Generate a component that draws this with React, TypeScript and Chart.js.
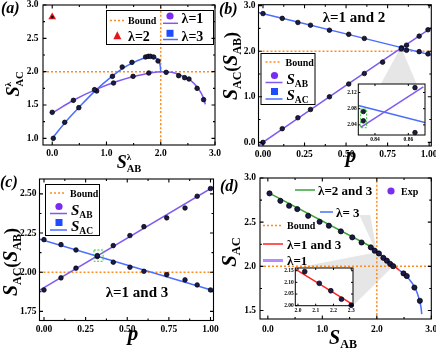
import React, { useEffect, useRef } from "react";
import { Chart, registerables } from "chart.js";

Chart.register(...registerables);

const FIG_W = 436;
const FIG_H = 348;
const SERIF = '"Liberation Serif", "Times New Roman", serif';
const BOUND = 2.0;

// ---------------- panel (a) ----------------
const aTickX = [0, 1, 2, 3];
const aTickY = [1.0, 1.5, 2.0, 2.5, 3.0];
const aLam1X = [0.0, 0.39, 0.78, 1.13, 1.49, 1.78, 2.1, 2.33, 2.44, 2.52, 2.67, 2.79];
const aLam1Y = [1.39, 1.57, 1.73, 1.83, 1.93, 1.98, 1.99, 1.94, 1.91, 1.89, 1.75, 1.58];
const aLam3X = [0.02, 0.23, 0.49, 0.82, 1.11, 1.29, 1.47, 1.72, 1.77, 1.81, 1.87, 1.95];
const aLam3Y = [1.0, 1.24, 1.46, 1.71, 1.93, 2.07, 2.14, 2.22, 2.23, 2.23, 2.22, 2.16];
const aLam2X = [0.0];
const aLam2Y = [2.82];
const aTheory1X = [0, 0.4, 0.8, 1.2, 1.6, 2.0, 2.2, 2.4, 2.55, 2.67, 2.75, 2.8, 2.82];
const aTheory1Y = [1.38, 1.575, 1.73, 1.855, 1.945, 2.0, 1.99, 1.935, 1.87, 1.77, 1.67, 1.58, 1.51];
const aTheory3X = [0, 0.25, 0.5, 0.8, 1.1, 1.3, 1.5, 1.65, 1.8, 1.9, 1.96, 1.99, 2.0];
const aTheory3Y = [1.0, 1.25, 1.47, 1.72, 1.93, 2.05, 2.14, 2.19, 2.22, 2.21, 2.16, 2.09, 2.0];

// ---------------- panel (b) ----------------
const bTickX = [0, 0.25, 0.5, 0.75, 1.0];
const bTickY = [0, 1, 2, 3];
const bAbP = [0, 0.116, 0.21, 0.286, 0.4, 0.516, 0.61, 0.72, 0.833, 0.864, 0.94, 0.993];
const bAbY = [0.0, 0.3, 0.54, 0.72, 1.0, 1.28, 1.51, 1.76, 2.05, 2.132, 2.33, 2.47];
const bAcP = [0, 0.116, 0.21, 0.286, 0.4, 0.516, 0.61, 0.833, 0.864, 0.94, 0.993];
const bAcY = [2.825, 2.72, 2.63, 2.57, 2.46, 2.37, 2.28, 2.073, 2.021, 1.99, 1.94];
const bTheoryP = [-0.03, 0.5, 1.02];
const bTheoryAB = [-0.075, 1.25, 2.53];
const bTheoryAC = [2.85, 2.38, 1.91];
// inset of (b)
const biTickX = [0.84, 0.86];
const biTickY = [2.04, 2.08, 2.12];
const biTheoryAcP = [0.83, 0.87];
const biTheoryAcY = [2.088, 2.046];
const biTheoryAbP = [0.8314, 0.869];
const biTheoryAbY = [2.034, 2.134];

// ---------------- panel (c) ----------------
const cTickX = [0, 0.25, 0.5, 0.75, 1.0];
const cTickY = [1.75, 2.0, 2.25, 2.5];
const cP = [0, 0.102, 0.192, 0.32, 0.416, 0.516, 0.6, 0.737, 0.847, 0.92, 1.0];
const cAbY = [1.887, 1.964, 2.026, 2.106, 2.17, 2.234, 2.291, 2.347, 2.41, 2.485, 2.534];
const cAcY = [2.208, 2.176, 2.142, 2.1, 2.064, 2.032, 2.006, 1.985, 1.951, 1.919, 1.887];
const cTheoryP = [-0.03, 1.02];
const cTheoryAB = [1.882, 2.546];
const cTheoryAC = [2.213, 1.882];

// ---------------- panel (d) ----------------
const dTickX = [0, 1, 2, 3];
const dTickY = [1.5, 2.0, 2.5, 3.0];
const dExpX = [0.03, 0.23, 0.39, 0.54, 0.74, 0.95, 1.12, 1.34, 1.55, 1.72, 1.89, 1.96, 2.038, 2.12, 2.185, 2.245, 2.3, 2.49, 2.55, 2.69, 2.79];
const dExpY = [2.826, 2.742, 2.686, 2.648, 2.572, 2.505, 2.46, 2.396, 2.328, 2.27, 2.215, 2.177, 2.146, 2.096, 2.064, 2.028, 2.002, 1.92, 1.89, 1.76, 1.61];
const dGreenX = [0, 1.897];
const dGreenY = [2.837, 2.222];
const dRedX = [1.897, 2.41];
const dRedY = [2.222, 1.958];
const dBlueX = [2.41, 2.5, 2.6, 2.68, 2.74, 2.78, 2.81, 2.825];
const dBlueY = [1.958, 1.915, 1.85, 1.78, 1.7, 1.62, 1.54, 1.46];
// inset of (d)
const diTickX = [2.0, 2.1, 2.2, 2.3];
const diTickY = [2.0, 2.05, 2.1, 2.15];
const diRedX = [1.985, 2.31];
const diRedY = [2.157, 2.005];

// ---------------- styling ----------------
const C_PURPLE_LINE = "#7f5af0";
const C_BLUE_LINE = "#4a6cff";
const C_POINT = "#1c1a48";
const C_ORANGE = "#ff8c1f";
const C_PURPLE_MARK = "#7a2cf0";
const C_BLUE_MARK = "#1f4cff";
const C_GREEN = "#3aa33a";
const C_RED = "#ff2020";
const C_LIGHT_PURPLE = "#b48cff";
const C_GRAY = "rgba(205,205,205,0.5)";

type Area = { l: number; t: number; r: number; b: number };
type Axis = { min: number; max: number; ticks: number[]; dec: number; pad: number };

const A_AREA: Area = { l: 43, t: 5, r: 215, b: 145 };
const B_AREA: Area = { l: 258.5, t: 4.5, r: 432, b: 146 };
const C_AREA: Area = { l: 39.5, t: 179, r: 213.5, b: 320.5 };
const D_AREA: Area = { l: 260, t: 178, r: 434.5, b: 319 };
const BI_AREA: Area = { l: 358.3, t: 84, r: 425, b: 135 };
const DI_AREA: Area = { l: 295.3, t: 268, r: 353, b: 305.7 };

const pts = (xs: number[], ys: number[]) => xs.map((x, i) => ({ x, y: ys[i] }));

const pointsDS = (xs: number[], ys: number[], extra: any = {}) => ({
  data: pts(xs, ys),
  showLine: false,
  pointRadius: 2.3,
  pointBackgroundColor: C_POINT,
  pointBorderColor: "#000",
  pointBorderWidth: 0.7,
  ...extra,
});
const lineDS = (xs: number[], ys: number[], color: string, width = 1.5, extra: any = {}) => ({
  data: pts(xs, ys),
  showLine: true,
  pointRadius: 0,
  borderColor: color,
  borderWidth: width,
  cubicInterpolationMode: "monotone",
  ...extra,
});
const hBound = (ax: Axis) => lineDS([ax.min, ax.max], [BOUND, BOUND], C_ORANGE, 1.5, { borderDash: [2, 2] });
const vBound = (ay: Axis) => lineDS([BOUND, BOUND], [ay.min, ay.max], C_ORANGE, 1.5, { borderDash: [2, 2] });

// ---------------- drawing helpers ----------------
type Seg = { t: string; size: number; it?: boolean; dy?: number; hold?: boolean };
const segFont = (s: Seg) => `${s.it ? "italic " : ""}bold ${s.size}px ${SERIF}`;
function richW(ctx: CanvasRenderingContext2D, segs: Seg[]) {
  let w = 0;
  for (const s of segs) {
    ctx.font = segFont(s);
    if (!s.hold) w += ctx.measureText(s.t).width;
  }
  return w;
}
function rich(ctx: CanvasRenderingContext2D, segs: Seg[], x: number, y: number, align: "left" | "center", rot = false) {
  ctx.save();
  ctx.translate(x, y);
  if (rot) ctx.rotate(-Math.PI / 2);
  let cx = align === "center" ? -richW(ctx, segs) / 2 : 0;
  ctx.fillStyle = "#000";
  ctx.textBaseline = "alphabetic";
  ctx.textAlign = "left";
  for (const s of segs) {
    ctx.font = segFont(s);
    ctx.fillText(s.t, cx, s.dy || 0);
    if (!s.hold) cx += ctx.measureText(s.t).width;
  }
  ctx.restore();
}
function label(ctx: CanvasRenderingContext2D, s: string, x: number, y: number, size: number, align: CanvasTextAlign = "left", italic = false) {
  ctx.save();
  ctx.font = `${italic ? "italic " : ""}bold ${size}px ${SERIF}`;
  ctx.fillStyle = "#000";
  ctx.textAlign = align;
  ctx.textBaseline = "alphabetic";
  ctx.fillText(s, x, y);
  ctx.restore();
}
function segLine(ctx: CanvasRenderingContext2D, x1: number, x2: number, y: number, color: string, w = 1.5, dash: number[] = []) {
  ctx.save();
  ctx.strokeStyle = color;
  ctx.lineWidth = w;
  ctx.setLineDash(dash);
  ctx.beginPath();
  ctx.moveTo(x1, y);
  ctx.lineTo(x2, y);
  ctx.stroke();
  ctx.restore();
}
function dotted(ctx: CanvasRenderingContext2D, x1: number, x2: number, y: number) {
  segLine(ctx, x1, x2, y, C_ORANGE, 1.5, [2, 2]);
}
function circle(ctx: CanvasRenderingContext2D, x: number, y: number, r: number, color: string) {
  ctx.save();
  ctx.fillStyle = color;
  ctx.beginPath();
  ctx.arc(x, y, r, 0, Math.PI * 2);
  ctx.fill();
  ctx.restore();
}
function square(ctx: CanvasRenderingContext2D, x: number, y: number, s: number, color: string) {
  ctx.save();
  ctx.fillStyle = color;
  ctx.fillRect(x - s / 2, y - s / 2, s, s);
  ctx.restore();
}
function triangle(ctx: CanvasRenderingContext2D, x: number, y: number, s: number, color: string) {
  ctx.save();
  ctx.fillStyle = color;
  ctx.beginPath();
  ctx.moveTo(x, y - s * 0.6);
  ctx.lineTo(x + s / 2, y + s * 0.4);
  ctx.lineTo(x - s / 2, y + s * 0.4);
  ctx.closePath();
  ctx.fill();
  ctx.restore();
}
function box(ctx: CanvasRenderingContext2D, l: number, t: number, w: number, h: number, color = "#000", lw = 1, dash: number[] = []) {
  ctx.save();
  ctx.strokeStyle = color;
  ctx.lineWidth = lw;
  ctx.setLineDash(dash);
  ctx.strokeRect(l, t, w, h);
  ctx.restore();
}
function minorVals(arr: number[], min: number, max: number) {
  if (arr.length < 2) return [];
  const st = arr[1] - arr[0];
  const out: number[] = [];
  const k0 = Math.floor((min - arr[0]) / st) - 1;
  const k1 = Math.ceil((max - arr[0]) / st) + 1;
  for (let k = k0; k <= k1; k++) {
    const v = arr[0] + st * (k + 0.5);
    if (v >= min && v <= max) out.push(v);
  }
  return out;
}
function drawFrame(chart: any, major = 3.5, minor = 2, lw = 1.1) {
  const { ctx, chartArea: a, scales } = chart;
  const xs = scales.x;
  const ys = scales.y;
  const xt = xs.ticks.map((t: any) => t.value);
  const yt = ys.ticks.map((t: any) => t.value);
  ctx.save();
  ctx.strokeStyle = "#000";
  ctx.lineWidth = lw;
  ctx.strokeRect(a.left, a.top, a.right - a.left, a.bottom - a.top);
  ctx.beginPath();
  const xAll: [number, number][] = xt.map((v: number) => [v, major]);
  if (minor > 0) minorVals(xt, xs.min, xs.max).forEach((v) => xAll.push([v, minor]));
  xAll.forEach(([v, len]) => {
    const px = xs.getPixelForValue(v);
    ctx.moveTo(px, a.bottom);
    ctx.lineTo(px, a.bottom - len);
    ctx.moveTo(px, a.top);
    ctx.lineTo(px, a.top + len);
  });
  const yAll: [number, number][] = yt.map((v: number) => [v, major]);
  if (minor > 0) minorVals(yt, ys.min, ys.max).forEach((v) => yAll.push([v, minor]));
  yAll.forEach(([v, len]) => {
    const py = ys.getPixelForValue(v);
    ctx.moveTo(a.left, py);
    ctx.lineTo(a.left + len, py);
    ctx.moveTo(a.right, py);
    ctx.lineTo(a.right - len, py);
  });
  ctx.stroke();
  ctx.restore();
}
function polygon(ctx: CanvasRenderingContext2D, p: [number, number][], color: string) {
  ctx.save();
  ctx.fillStyle = color;
  ctx.beginPath();
  p.forEach(([x, y], i) => (i ? ctx.lineTo(x, y) : ctx.moveTo(x, y)));
  ctx.closePath();
  ctx.fill();
  ctx.restore();
}
function sLegend(ctx: CanvasRenderingContext2D, L: number, T: number) {
  box(ctx, L + 0.5, T + 0.5, 54, 51);
  dotted(ctx, L + 5, L + 21, T + 9);
  label(ctx, "Bound", L + 25, T + 12.5, 10);
  circle(ctx, L + 14, T + 22.5, 3.6, C_PURPLE_MARK);
  segLine(ctx, L + 5, L + 22, T + 29.5, C_PURPLE_LINE, 1.5);
  rich(ctx, [{ t: "S", size: 15, it: true }, { t: "AB", size: 9.5, dy: 3 }], L + 26, T + 31);
  square(ctx, L + 14, T + 38.5, 7, C_BLUE_MARK);
  segLine(ctx, L + 5, L + 22, T + 46, C_BLUE_LINE, 1.5);
  rich(ctx, [{ t: "S", size: 15, it: true }, { t: "AC", size: 9.5, dy: 3 }], L + 26, T + 47);
}
const yTitleSS: Seg[] = [
  { t: "S", size: 20, it: true },
  { t: "AC", size: 12, dy: 3.5 },
  { t: "(", size: 18 },
  { t: "S", size: 20, it: true },
  { t: "AB", size: 12, dy: 3.5 },
  { t: ")", size: 18 },
];

// ---------------- config builder ----------------
function buildConfig(area: Area, ax: Axis, ay: Axis, font: number, datasets: any[], deco: any, yw = 30, xh = 20) {
  const fmt = (d: number) => (v: any) => Number(v).toFixed(d);
  const tickFont = { family: SERIF, size: font, weight: "bold" as const };
  return {
    type: "scatter" as const,
    data: { datasets },
    options: {
      animation: false as const,
      responsive: false,
      maintainAspectRatio: false,
      events: [] as any[],
      layout: {
        padding: {
          left: area.l - yw,
          top: area.t,
          right: FIG_W - area.r,
          bottom: FIG_H - area.b - xh,
        },
      },
      plugins: { legend: { display: false }, tooltip: { enabled: false } },
      scales: {
        x: {
          type: "linear" as const,
          min: ax.min,
          max: ax.max,
          grid: { display: false, drawTicks: false },
          border: { display: false },
          afterBuildTicks: (s: any) => {
            s.ticks = ax.ticks.map((v) => ({ value: v }));
          },
          afterFit: (s: any) => {
            s.height = xh;
            s.paddingLeft = 0;
            s.paddingRight = 0;
            s.paddingTop = 0;
            s.paddingBottom = 0;
          },
          ticks: { padding: ax.pad, maxRotation: 0, autoSkip: false, color: "#000", font: tickFont, callback: fmt(ax.dec) },
        },
        y: {
          type: "linear" as const,
          min: ay.min,
          max: ay.max,
          grid: { display: false, drawTicks: false },
          border: { display: false },
          afterBuildTicks: (s: any) => {
            s.ticks = ay.ticks.map((v) => ({ value: v }));
          },
          afterFit: (s: any) => {
            s.width = yw;
            s.paddingLeft = 0;
            s.paddingRight = 0;
            s.paddingTop = 0;
            s.paddingBottom = 0;
          },
          ticks: { padding: ay.pad, autoSkip: false, color: "#000", font: tickFont, callback: fmt(ay.dec) },
        },
      },
    },
    plugins: [{ id: "deco", ...deco }],
  };
}

// ---------------- panels ----------------
const A_X: Axis = { min: -0.17, max: 3.0, ticks: aTickX, dec: 1, pad: 3 };
const A_Y: Axis = { min: 0.9, max: 3.0, ticks: aTickY, dec: 1, pad: 4.5 };
const B_X: Axis = { min: -0.027, max: 1.013, ticks: bTickX, dec: 2, pad: 2.5 };
const B_Y: Axis = { min: -0.08, max: 3.02, ticks: bTickY, dec: 1, pad: 3 };
const BI_X: Axis = { min: 0.83, max: 0.87, ticks: biTickX, dec: 2, pad: 1.5 };
const BI_Y: Axis = { min: 2.015, max: 2.141, ticks: biTickY, dec: 2, pad: 1.5 };
const C_X: Axis = { min: -0.027, max: 1.018, ticks: cTickX, dec: 2, pad: 3.5 };
const C_Y: Axis = { min: 1.692, max: 2.595, ticks: cTickY, dec: 2, pad: 3 };
const D_X: Axis = { min: -0.144, max: 3.0, ticks: dTickX, dec: 1, pad: 5 };
const D_Y: Axis = { min: 1.404, max: 3.0, ticks: dTickY, dec: 1, pad: 4 };
const DI_X: Axis = { min: 1.985, max: 2.31, ticks: diTickX, dec: 1, pad: 1.5 };
const DI_Y: Axis = { min: 2.0, max: 2.1616, ticks: diTickY, dec: 2, pad: 1.5 };

function configA() {
  const datasets = [
    pointsDS(aLam2X, aLam2Y, { pointRadius: 1.5, pointBackgroundColor: "#111", pointBorderWidth: 0 }),
    pointsDS(aLam2X, aLam2Y, { pointStyle: "triangle", pointRadius: 4.5, pointBackgroundColor: "#e8141c", pointBorderColor: "#e8141c", pointBorderWidth: 0 }),
    pointsDS(aLam1X, aLam1Y),
    pointsDS(aLam3X, aLam3Y),
    lineDS(aTheory1X, aTheory1Y, C_PURPLE_LINE),
    lineDS(aTheory3X, aTheory3Y, C_BLUE_LINE),
    hBound(A_X),
    vBound(A_Y),
  ];
  const deco = {
    afterDraw(chart: any) {
      const ctx = chart.ctx;
      drawFrame(chart);
      label(ctx, "(a)", 1, 13, 16, "left", true);
      rich(ctx, [{ t: "S", size: 18, it: true }, { t: "λ", size: 9, dy: -8, hold: true }, { t: "AC", size: 10.5, dy: 4 }], 18.5, 84, "center", true);
      rich(ctx, [{ t: "S", size: 18, it: true }, { t: "λ", size: 9, dy: -8, hold: true }, { t: "AB", size: 10.5, dy: 4 }], 129, 168, "center");
      // legend
      box(ctx, 106.5, 10.5, 107, 34);
      dotted(ctx, 110, 124, 20.5);
      label(ctx, "Bound", 128, 24, 10);
      circle(ctx, 170, 16, 3.6, C_PURPLE_MARK);
      segLine(ctx, 163, 178, 23.3, C_PURPLE_LINE, 1.5);
      label(ctx, "λ=1", 181.5, 23, 14);
      triangle(ctx, 117.3, 36, 8, "#e8141c");
      label(ctx, "λ=2", 128, 41, 14);
      square(ctx, 170, 33.3, 7, C_BLUE_MARK);
      segLine(ctx, 163, 178, 39.5, C_BLUE_LINE, 1.5);
      label(ctx, "λ=3", 181.5, 41, 14);
    },
  };
  return buildConfig(A_AREA, A_X, A_Y, 9.5, datasets, deco);
}

function configB() {
  const datasets = [
    pointsDS(bAbP, bAbY),
    pointsDS(bAcP, bAcY),
    lineDS(bTheoryP, bTheoryAB, C_PURPLE_LINE),
    lineDS(bTheoryP, bTheoryAC, C_BLUE_LINE),
    hBound(B_X),
  ];
  const deco = {
    beforeDatasetsDraw(chart: any) {
      const { x, y } = chart.scales;
      polygon(
        chart.ctx,
        [
          [x.getPixelForValue(0.83), y.getPixelForValue(2.09)],
          [x.getPixelForValue(0.925), BI_AREA.t],
          [x.getPixelForValue(0.709), BI_AREA.t],
        ],
        C_GRAY
      );
    },
    afterDraw(chart: any) {
      const ctx = chart.ctx;
      drawFrame(chart);
      label(ctx, "(b)", 219, 14, 16, "left", true);
      rich(ctx, yTitleSS, 237, 66, "center", true);
      label(ctx, "p", 351, 162, 21, "center", true);
      label(ctx, "λ=1 and 2", 354, 22, 15, "center");
      sLegend(ctx, 260.5, 53);
    },
  };
  return buildConfig(B_AREA, B_X, B_Y, 9.5, datasets, deco);
}

function configBInset() {
  const inRange = (xs: number[], ys: number[]) => {
    const ix = xs.map((v, i) => i).filter((i) => xs[i] >= BI_X.min && xs[i] <= BI_X.max);
    return [ix.map((i) => xs[i]), ix.map((i) => ys[i])];
  };
  const [abx, aby] = inRange(bAbP, bAbY);
  const [acx, acy] = inRange(bAcP, bAcY);
  const datasets = [
    pointsDS(abx, aby, { clip: false }),
    pointsDS(acx, acy, { clip: false }),
    lineDS(biTheoryAbP, biTheoryAbY, C_PURPLE_LINE),
    lineDS(biTheoryAcP, biTheoryAcY, C_BLUE_LINE),
  ];
  const deco = {
    beforeDatasetsDraw(chart: any) {
      const a = chart.chartArea;
      chart.ctx.save();
      chart.ctx.fillStyle = "#fff";
      chart.ctx.fillRect(a.left, a.top, a.right - a.left, a.bottom - a.top);
      chart.ctx.restore();
    },
    afterDraw(chart: any) {
      const { x, y } = chart.scales;
      drawFrame(chart, 2, 0, 1);
      const l = x.getPixelForValue(0.8314);
      const r = x.getPixelForValue(0.835);
      const t = y.getPixelForValue(2.079);
      const b = y.getPixelForValue(2.033);
      box(chart.ctx, l, t, r - l, b - t, "#2ecc2e", 1, [2, 1.5]);
    },
  };
  return buildConfig(BI_AREA, BI_X, BI_Y, 5.5, datasets, deco, 14, 10);
}

function configC() {
  const datasets = [
    pointsDS(cP, cAbY),
    pointsDS(cP, cAcY),
    lineDS(cTheoryP, cTheoryAB, C_PURPLE_LINE),
    lineDS(cTheoryP, cTheoryAC, C_BLUE_LINE),
    hBound(C_X),
  ];
  const deco = {
    afterDraw(chart: any) {
      const ctx = chart.ctx;
      const { x, y } = chart.scales;
      drawFrame(chart);
      label(ctx, "(c)", 0, 187, 16, "left", true);
      rich(ctx, yTitleSS, 17, 262, "center", true);
      label(ctx, "p", 133, 340, 21, "center", true);
      label(ctx, "λ=1 and 3", 137, 297, 15, "center");
      sLegend(ctx, 45, 184);
      const l = x.getPixelForValue(0.3);
      const r = x.getPixelForValue(0.355);
      const t = y.getPixelForValue(2.142);
      const b = y.getPixelForValue(2.07);
      box(ctx, l, t, r - l, b - t, "#2ecc2e", 1, [2, 1.5]);
    },
  };
  return buildConfig(C_AREA, C_X, C_Y, 9.5, datasets, deco);
}

function configD() {
  const datasets = [
    pointsDS(dExpX, dExpY, { pointRadius: 2.6 }),
    lineDS(dGreenX, dGreenY, C_GREEN),
    lineDS(dRedX, dRedY, C_RED),
    lineDS(dBlueX, dBlueY, C_BLUE_LINE),
    hBound(D_X),
    vBound(D_Y),
  ];
  const deco = {
    beforeDatasetsDraw(chart: any) {
      const { x, y } = chart.scales;
      const ctx = chart.ctx;
      polygon(
        ctx,
        [
          [x.getPixelForValue(1.68), y.getPixelForValue(2.58)],
          [x.getPixelForValue(1.88), y.getPixelForValue(2.58)],
          [x.getPixelForValue(2.0), y.getPixelForValue(2.15)],
        ],
        C_GRAY
      );
      polygon(
        ctx,
        [
          [DI_AREA.l, DI_AREA.t],
          [x.getPixelForValue(2.0), y.getPixelForValue(2.16)],
          [x.getPixelForValue(2.3), y.getPixelForValue(2.0)],
          [DI_AREA.r, DI_AREA.b],
        ],
        C_GRAY
      );
    },
    afterDraw(chart: any) {
      const ctx = chart.ctx;
      drawFrame(chart);
      label(ctx, "(d)", 220, 191, 16, "left", true);
      rich(ctx, [{ t: "S", size: 21, it: true }, { t: "AC", size: 12.5, dy: 4 }], 236, 252, "center", true);
      rich(ctx, [{ t: "S", size: 20, it: true }, { t: "AB", size: 12, dy: 4 }], 343, 344, "center");
      // legend
      segLine(ctx, 295, 315, 190, C_GREEN, 1.5);
      label(ctx, "λ=2 and 3", 318, 194.5, 13);
      circle(ctx, 391, 191, 3.6, C_PURPLE_MARK);
      label(ctx, "Exp", 401, 195, 10);
      segLine(ctx, 320, 333, 212, C_BLUE_LINE, 1.5);
      label(ctx, "λ= 3", 336, 216.5, 13);
      dotted(ctx, 263, 283, 225.5);
      label(ctx, "Bound", 287, 229, 10);
      segLine(ctx, 263, 283, 244, C_RED, 1.5);
      label(ctx, "λ=1 and 3", 287, 248.5, 13);
      segLine(ctx, 263, 283, 260.5, C_LIGHT_PURPLE, 3);
      label(ctx, "λ=1", 287, 265, 13);
    },
  };
  return buildConfig(D_AREA, D_X, D_Y, 9.5, datasets, deco);
}

function configDInset() {
  const ix = dExpX.map((v, i) => i).filter((i) => dExpX[i] >= DI_X.min && dExpX[i] <= DI_X.max);
  const datasets = [
    pointsDS(ix.map((i) => dExpX[i]), ix.map((i) => dExpY[i]), { clip: false, pointRadius: 2.4 }),
    lineDS(diRedX, diRedY, C_RED),
  ];
  const deco = {
    beforeDatasetsDraw(chart: any) {
      const a = chart.chartArea;
      chart.ctx.save();
      chart.ctx.fillStyle = "#fff";
      chart.ctx.fillRect(a.left, a.top, a.right - a.left, a.bottom - a.top);
      chart.ctx.restore();
    },
    afterDraw(chart: any) {
      drawFrame(chart, 2, 0, 1);
    },
  };
  return buildConfig(DI_AREA, DI_X, DI_Y, 5.5, datasets, deco, 14, 10);
}

function ChartLayer({ make }: { make: () => any }) {
  const ref = useRef<HTMLCanvasElement>(null);
  useEffect(() => {
    if (!ref.current) return;
    const chart = new Chart(ref.current, make());
    return () => chart.destroy();
  }, [make]);
  return (
    <canvas
      ref={ref}
      width={FIG_W}
      height={FIG_H}
      style={{ position: "absolute", left: 0, top: 0, width: FIG_W, height: FIG_H }}
    />
  );
}

export default function App() {
  return (
    <div style={{ position: "absolute", left: 0, top: 0, width: FIG_W, height: FIG_H, background: "#fff", overflow: "hidden" }}>
      <ChartLayer make={configA} />
      <ChartLayer make={configB} />
      <ChartLayer make={configC} />
      <ChartLayer make={configD} />
      <ChartLayer make={configBInset} />
      <ChartLayer make={configDInset} />
    </div>
  );
}
